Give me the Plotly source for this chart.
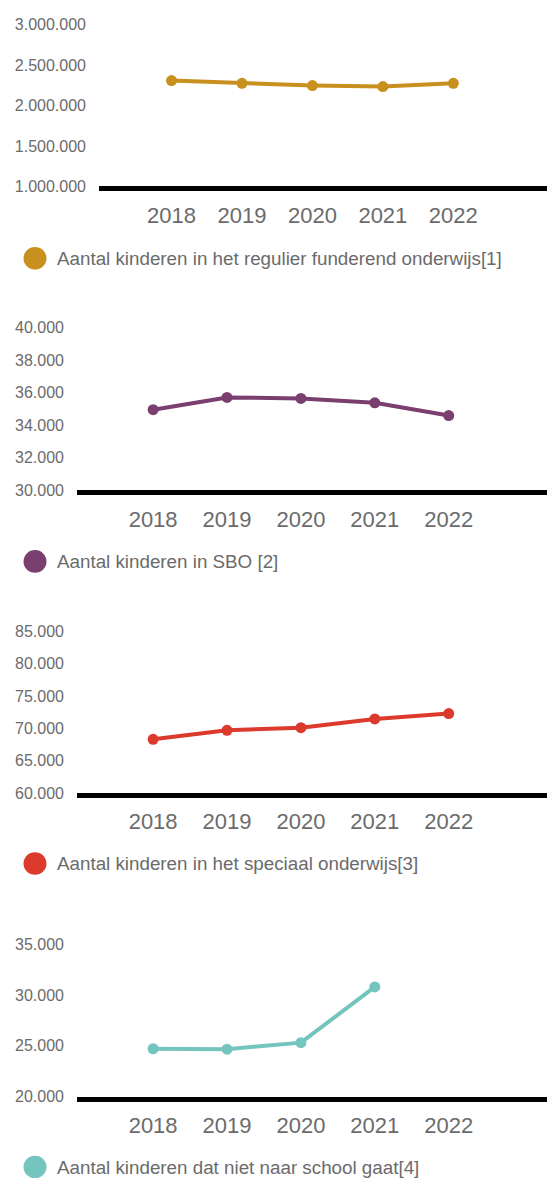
import plotly.graph_objects as go

W, H = 547, 1178

years = [2018, 2019, 2020, 2021, 2022]

regulier = [2309000, 2276000, 2247000, 2235000, 2276000]
sbo = [34950, 35700, 35640, 35370, 34590]
speciaal = [68300, 69690, 70110, 71460, 72280]
niet_naar_school = [24710, 24670, 25310, 30800, None]

names = [
    "Aantal kinderen in het regulier funderend onderwijs[1]",
    "Aantal kinderen in SBO [2]",
    "Aantal kinderen in het speciaal onderwijs[3]",
    "Aantal kinderen dat niet naar school gaat[4]",
]
colors = ["#C8901F", "#7A3F6E", "#DD3A2E", "#75C5BF"]
y_ranges = [(1000000, 3000000), (30000, 40000), (60000, 85000), (20000, 35000)]
y_dticks = [500000, 2000, 5000, 5000]

# panel geometry in pixels: (plot left, top tick, baseline, legend centre)
panels = [
    (99, 17, 181, 254),
    (77, 324, 489.5, 561.5),
    (77, 632.5, 796.5, 868),
    (77, 950, 1104.5, 1176),
]

TEXT = "#6b6b6b"
FONT = "Liberation Sans, Arial, sans-serif"

fig = go.Figure()
series = [regulier, sbo, speciaal, niet_naar_school]

layout = dict(
    width=W, height=H,
    margin=dict(l=0, r=0, t=0, b=0),
    paper_bgcolor="white",
    plot_bgcolor="white",
    showlegend=False,
    separators=",.",
    font=dict(family=FONT, color=TEXT),
    shapes=[],
    annotations=[],
)

for i, (vals, name, col) in enumerate(zip(series, names, colors)):
    n = "" if i == 0 else str(i + 1)
    left, top, base, leg = panels[i]
    fig.add_trace(go.Scatter(
        x=years, y=vals, name=name, mode="lines+markers",
        line=dict(color=col, width=4),
        marker=dict(color=col, size=11),
        xaxis="x" + n, yaxis="y" + n,
        connectgaps=False,
    ))
    layout["xaxis" + n] = dict(
        domain=[left / W, 1],
        anchor="y" + n,
        range=[2016.97, 2023.33],
        tickvals=years,
        ticktext=[str(y) for y in years],
        showgrid=False, zeroline=False,
        showline=True, linecolor="black", linewidth=5,
        tickfont=dict(size=22, color=TEXT),
        ticklabelstandoff=5,
        fixedrange=True,
    )
    layout["yaxis" + n] = dict(
        domain=[1 - base / H, 1 - top / H],
        anchor="x" + n,
        range=list(y_ranges[i]),
        dtick=y_dticks[i],
        tickformat=",d",
        showgrid=False, zeroline=False, showline=False,
        tickfont=dict(size=16, color=TEXT),
        ticklabelstandoff=12,
        fixedrange=True,
    )
    # legend dot and label
    r = 11.5
    layout["shapes"].append(dict(
        type="circle", xref="paper", yref="paper",
        x0=(35 - r) / W, x1=(35 + r) / W,
        y0=1 - (leg + r) / H, y1=1 - (leg - r) / H,
        fillcolor=col, line=dict(width=0),
    ))
    layout["annotations"].append(dict(
        xref="paper", yref="paper", x=55 / W, y=1 - leg / H,
        xanchor="left", yanchor="middle", showarrow=False,
        text=name, font=dict(size=18.8, color=TEXT, family=FONT),
    ))

fig.update_layout(**layout)
fig.write_html(
    "out.html",
    config={"displayModeBar": False},
    post_script="document.body.style.margin='0';document.body.style.overflow='hidden';",
)
